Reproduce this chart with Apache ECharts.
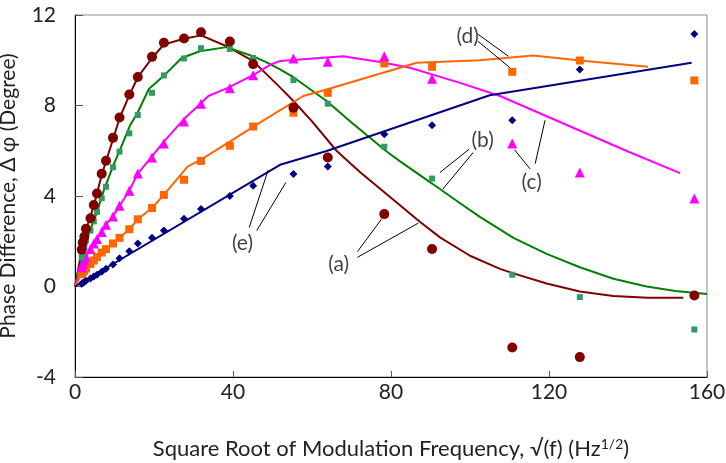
<!DOCTYPE html>
<html>
<head>
<meta charset="utf-8">
<script src="https://cdn.jsdelivr.net/npm/echarts@6/dist/echarts.min.js"></script>
<style>
  html, body { margin: 0; padding: 0; background: #fff; }
  #chart { width: 726px; height: 463px; }
</style>
</head>
<body>
<div id="chart"></div>
<script>
// Square root of the modulation frequency for each measurement (Hz^1/2)
const sqrtF = [1.7, 1.95, 2.36, 2.78, 3.92, 4.76, 5.57, 6.76, 7.85, 9.62, 11.27, 13.75, 15.9,
               19.5, 22.5, 27.6, 31.9, 39.2, 45.1, 55.3, 64.0, 78.3, 90.4, 110.7, 127.8, 156.8];

// Measured phase difference (degree) for samples (a)-(e)
const measA = [1.63, 1.94, 2.20, 2.55, 3.02, 3.60, 4.11, 4.98, 5.56, 6.57, 7.47, 8.49, 9.26,
               10.15, 10.77, 10.96, 11.24, 10.83, 9.83, 7.90, 5.70, 3.20, 1.66, -2.70, -3.12, -0.40];
const measB = [1.28, 1.50, 1.75, 2.05, 2.47, 2.88, 3.30, 3.90, 4.41, 5.27, 5.96, 6.77, 7.58,
               8.56, 9.33, 10.08, 10.53, 10.50, 10.10, 9.12, 8.08, 6.18, 4.77, 0.52, -0.47, -1.90];
const measC = [0.85, 1.00, 1.15, 1.32, 1.66, 1.90, 2.10, 2.41, 2.73, 3.09, 3.57, 4.23, 4.99,
               5.70, 6.32, 7.29, 8.08, 8.76, 9.34, 10.08, 9.93, 10.18, 9.18, 6.32, 5.04, 3.89];
const measD = [0.55, 0.62, 0.70, 0.80, 1.00, 1.15, 1.30, 1.50, 1.65, 1.90, 2.15, 2.53, 2.97,
               3.47, 4.05, 4.72, 5.55, 6.22, 7.07, 7.68, 8.56, 9.86, 9.71, 9.49, 9.99, 9.11];
const measE = [0.12, 0.15, 0.20, 0.25, 0.35, 0.44, 0.52, 0.65, 0.78, 0.97, 1.25, 1.56, 1.90,
               2.16, 2.47, 3.00, 3.42, 4.00, 4.45, 4.97, 5.30, 6.73, 7.13, 7.35, 9.59, 11.16];

// Model curves [sqrt(f), phase difference]
const fitA = [[0,0],[1.7,1.6],[2.8,2.5],[4.8,3.6],[6.8,4.95],[9.6,6.5],[11.3,7.45],[13.75,8.45],
              [15.9,9.25],[19.5,10.1],[22.5,10.7],[27.6,10.95],[31.9,11.1],[38.4,10.62],[45.1,9.96],
              [51.9,8.8],[55.3,8.2],[60,7.3],[66.2,6.0],[72.2,5.05],[80.6,3.83],[87.3,2.86],[92.4,2.17],
              [100,1.36],[107.6,0.78],[111,0.58],[119.4,0.13],[127.8,-0.22],[136.3,-0.42],[145,-0.5],[154,-0.5]];
const fitB = [[0,0],[1.7,1.25],[2.8,2.0],[3.9,2.5],[5.6,3.3],[7.2,4.2],[9.7,5.35],[11.2,5.96],
              [13.9,7.1],[15.9,7.7],[18.7,8.73],[22.4,9.3],[27,10.1],[31.6,10.4],[38.4,10.58],
              [44.7,10.2],[48,9.95],[51.9,9.6],[55.3,9.25],[63.7,8.2],[70,7.25],[78.9,5.97],[82.3,5.53],
              [90.4,4.55],[97.5,3.68],[102.5,3.08],[111,2.15],[119.4,1.44],[127.8,0.85],[136.3,0.34],
              [144.7,0.0],[152,-0.2],[160,-0.33]];
const fitC = [[0,0],[1.7,0.85],[2.8,1.32],[3.9,1.66],[5.6,2.1],[7.85,2.73],[9.6,3.1],[11.3,3.57],
              [13.75,4.23],[15.9,4.99],[19.5,5.75],[22.5,6.4],[27.6,7.4],[31.9,8.1],[33.75,8.42],
              [38.4,8.76],[45.1,9.34],[49.4,9.8],[52,9.97],[67.9,10.18],[77.2,9.92],[84.8,9.67],
              [97.5,9.0],[107.6,8.42],[139.7,5.99],[153.2,5.01]];
const fitD = [[0,0],[1.7,0.55],[2.8,0.8],[3.9,1.0],[5.6,1.3],[7.85,1.65],[9.6,1.9],[11.3,2.15],
              [13.75,2.53],[15.9,2.97],[19.5,3.47],[22.5,4.05],[28.5,5.3],[32,5.62],[39.2,6.4],
              [46.8,7.24],[57.8,8.42],[63.7,8.71],[86.5,9.89],[102.5,10.0],[116,10.21],[127.8,9.99],
              [145.1,9.71]];
const fitE = [[0,0],[51.9,5.38],[63.7,5.99],[105,8.45],[156.1,9.89]];

// Axis ranges and ticks
const xTicks = [0, 40, 80, 120, 160];
const yTicks = [-4, 0, 4, 8, 12];

// Curve labels and their leader lines
const tagNames = ['(a)', '(b)', '(c)', '(d)', '(e)'];
const tagPos = [[66.75, 1.0], [103.2, 6.45], [115.6, 4.6], [99.4, 11.06], [42.4, 1.93]];
const leaders = [
  [[71.5, 1.54], [77.6, 2.98]], [[71.5, 1.29], [86.9, 2.8]],
  [[99.8, 6.07], [92.4, 5.04]], [[100.8, 5.92], [93.1, 4.3]],
  [[111.3, 6.04], [115.2, 5.2]], [[119.0, 7.35], [116.5, 5.43]],
  [[102.0, 11.15], [109.7, 10.18]], [[102.0, 10.84], [110.1, 9.67]],
  [[44.1, 2.61], [48.9, 5.14]], [[46.0, 2.47], [53.4, 4.6]]
];

const FONT = 'Lato';
const TEXT = '#222';
const pair = (ys) => sqrtF.map((x, i) => [x, ys[i]]);

function fitSeries(data, color) {
  return { type: 'line', data, symbol: 'none', smooth: false, z: 2,
           lineStyle: { color, width: 2 }, animation: false, silent: true };
}
function pointSeries(ys, symbol, size, color) {
  return { type: 'scatter', data: pair(ys), symbol, symbolSize: size, z: 3,
           itemStyle: { color, opacity: 1 }, animation: false, silent: true };
}

const chart = echarts.init(document.getElementById('chart'), null, { renderer: 'canvas' });
chart.setOption({
  backgroundColor: '#fff',
  animation: false,
  grid: { left: 75, right: 19, top: 15, bottom: 86, outerBoundsMode: 'none', containLabel: false,
          show: true, borderColor: '#8c8c8c', borderWidth: 1 },
  xAxis: {
    type: 'value', min: xTicks[0], max: xTicks[xTicks.length - 1], interval: 40,
    axisLine: { onZero: false, lineStyle: { color: '#000', width: 1 } },
    axisTick: { inside: true, length: 6, lineStyle: { color: '#555' } },
    splitLine: { show: false },
    axisLabel: { fontFamily: FONT, fontSize: 21, color: TEXT, margin: 5 },
    name: '{t|Square Root of Modulation Frequency, √(f) (Hz}{s|1/2}{t|)}',
    nameLocation: 'middle', nameGap: 60,
    nameTextStyle: { rich: {
      t: { fontFamily: FONT, fontSize: 22, color: TEXT },
      s: { fontFamily: FONT, fontSize: 14, color: TEXT, verticalAlign: 'top', padding: [0, 0, 10, 0] }
    } }
  },
  yAxis: {
    type: 'value', min: yTicks[0], max: yTicks[yTicks.length - 1], interval: 4,
    axisLine: { onZero: false, lineStyle: { color: '#000', width: 1 } },
    axisTick: { inside: true, length: 8, lineStyle: { color: '#555' } },
    splitLine: { show: false },
    axisLabel: { fontFamily: FONT, fontSize: 21, color: TEXT, margin: 19 },
    name: 'Phase Difference, Δ φ (Degree)', nameLocation: 'middle', nameGap: 56, nameRotate: 90,
    nameTextStyle: { fontFamily: FONT, fontSize: 21, color: TEXT }
  },
  series: [
    fitSeries(fitA, '#800000'),
    fitSeries(fitB, '#008000'),
    fitSeries(fitC, '#ff00ff'),
    fitSeries(fitD, '#ff6600'),
    fitSeries(fitE, '#000080'),
    pointSeries(measE, 'diamond', 8, '#000080'),
    pointSeries(measD, 'rect', 8, '#ff6600'),
    pointSeries(measC, 'triangle', 10, '#ff00ff'),
    pointSeries(measB, 'rect', 6, '#339966'),
    pointSeries(measA, 'circle', 10, '#800000'),
    {
      type: 'lines', coordinateSystem: 'cartesian2d', z: 4, silent: true, animation: false,
      polyline: false, symbol: 'none',
      lineStyle: { color: '#000', width: 1, opacity: 1 },
      data: leaders.map(c => ({ coords: c }))
    },
    {
      type: 'scatter', symbolSize: 0, z: 5, silent: true, animation: false,
      data: tagPos.map((p, i) => ({ value: p, name: tagNames[i] })),
      label: { show: true, position: 'inside', formatter: '{b}',
               fontFamily: FONT, fontSize: 21, color: '#111' }
    }
  ]
});
</script>
</body>
</html>
